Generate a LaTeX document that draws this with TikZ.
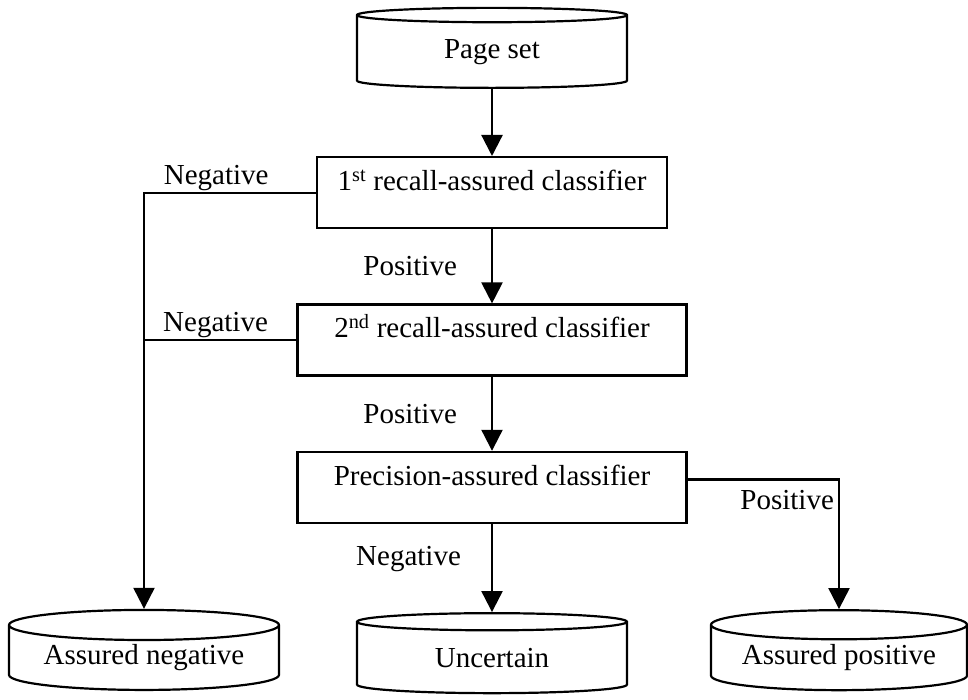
\documentclass[tikz,border=0pt]{standalone}
\usepackage{fontspec}
\setmainfont{Liberation Serif}
\usetikzlibrary{positioning,arrows.meta,shapes.geometric}

\begin{document}
\begin{tikzpicture}[x=1pt, y=-1pt,
  store/.style={cylinder, shape border rotate=90, aspect=0.15, draw, line width=2.2pt, minimum width=270pt, minimum height=80pt, inner sep=0pt, font=\fontsize{29}{34}\selectfont},
  classifier/.style={draw, line width=2.4pt, text height=27pt, text depth=32pt, inner ysep=6pt, font=\fontsize{29}{34}\selectfont},
  flow/.style={-{Triangle[length=21pt,width=21pt]}, line width=2.2pt},
  link/.style={line width=2.2pt},
  lbl/.style={font=\fontsize{29}{34}\selectfont, inner sep=0pt},
  node distance=74pt]
\useasboundingbox (0,0) rectangle (968,700);
\node[store] (pages) at (492,52) {Page set};
\node[classifier, minimum width=350pt, anchor=north] (c1) at (492,156) {1\textsuperscript{st} recall-assured classifier};
\node[classifier, minimum width=389pt, below=of c1] (c2) {2\textsuperscript{nd} recall-assured classifier};
\node[classifier, minimum width=389pt, below=of c2] (c3) {Precision-assured classifier};
\node[store] (neg) at (144,658) {Assured negative};
\node[store] (unc) at (492,658) {Uncertain};
\node[store, minimum width=256pt] (pos) at (839,658) {Assured positive};
\coordinate (c3out) at ([yshift=8pt]c3.east);
\draw[flow] (pages) -- (c1);
\draw[flow] (c1) -- node[lbl, left=34pt] {Positive} (c2);
\draw[flow] (c2) -- node[lbl, left=34pt] {Positive} (c3);
\draw[flow] (c3) -- node[lbl, left=30pt, pos=0.4] {Negative} (unc);
\draw[flow] (c1.west) -- node[lbl, above=1pt, pos=0.58] {Negative} (c1.west -| neg) -- (neg);
\draw[link] (c2.west) -- node[lbl, above=1pt, pos=0.53] {Negative} (c2.west -| neg);
\draw[flow] (c3out) -- node[lbl, below left=10pt and 4pt, pos=1] {Positive} (c3out -| pos) -- (pos);
\end{tikzpicture}
\end{document}
